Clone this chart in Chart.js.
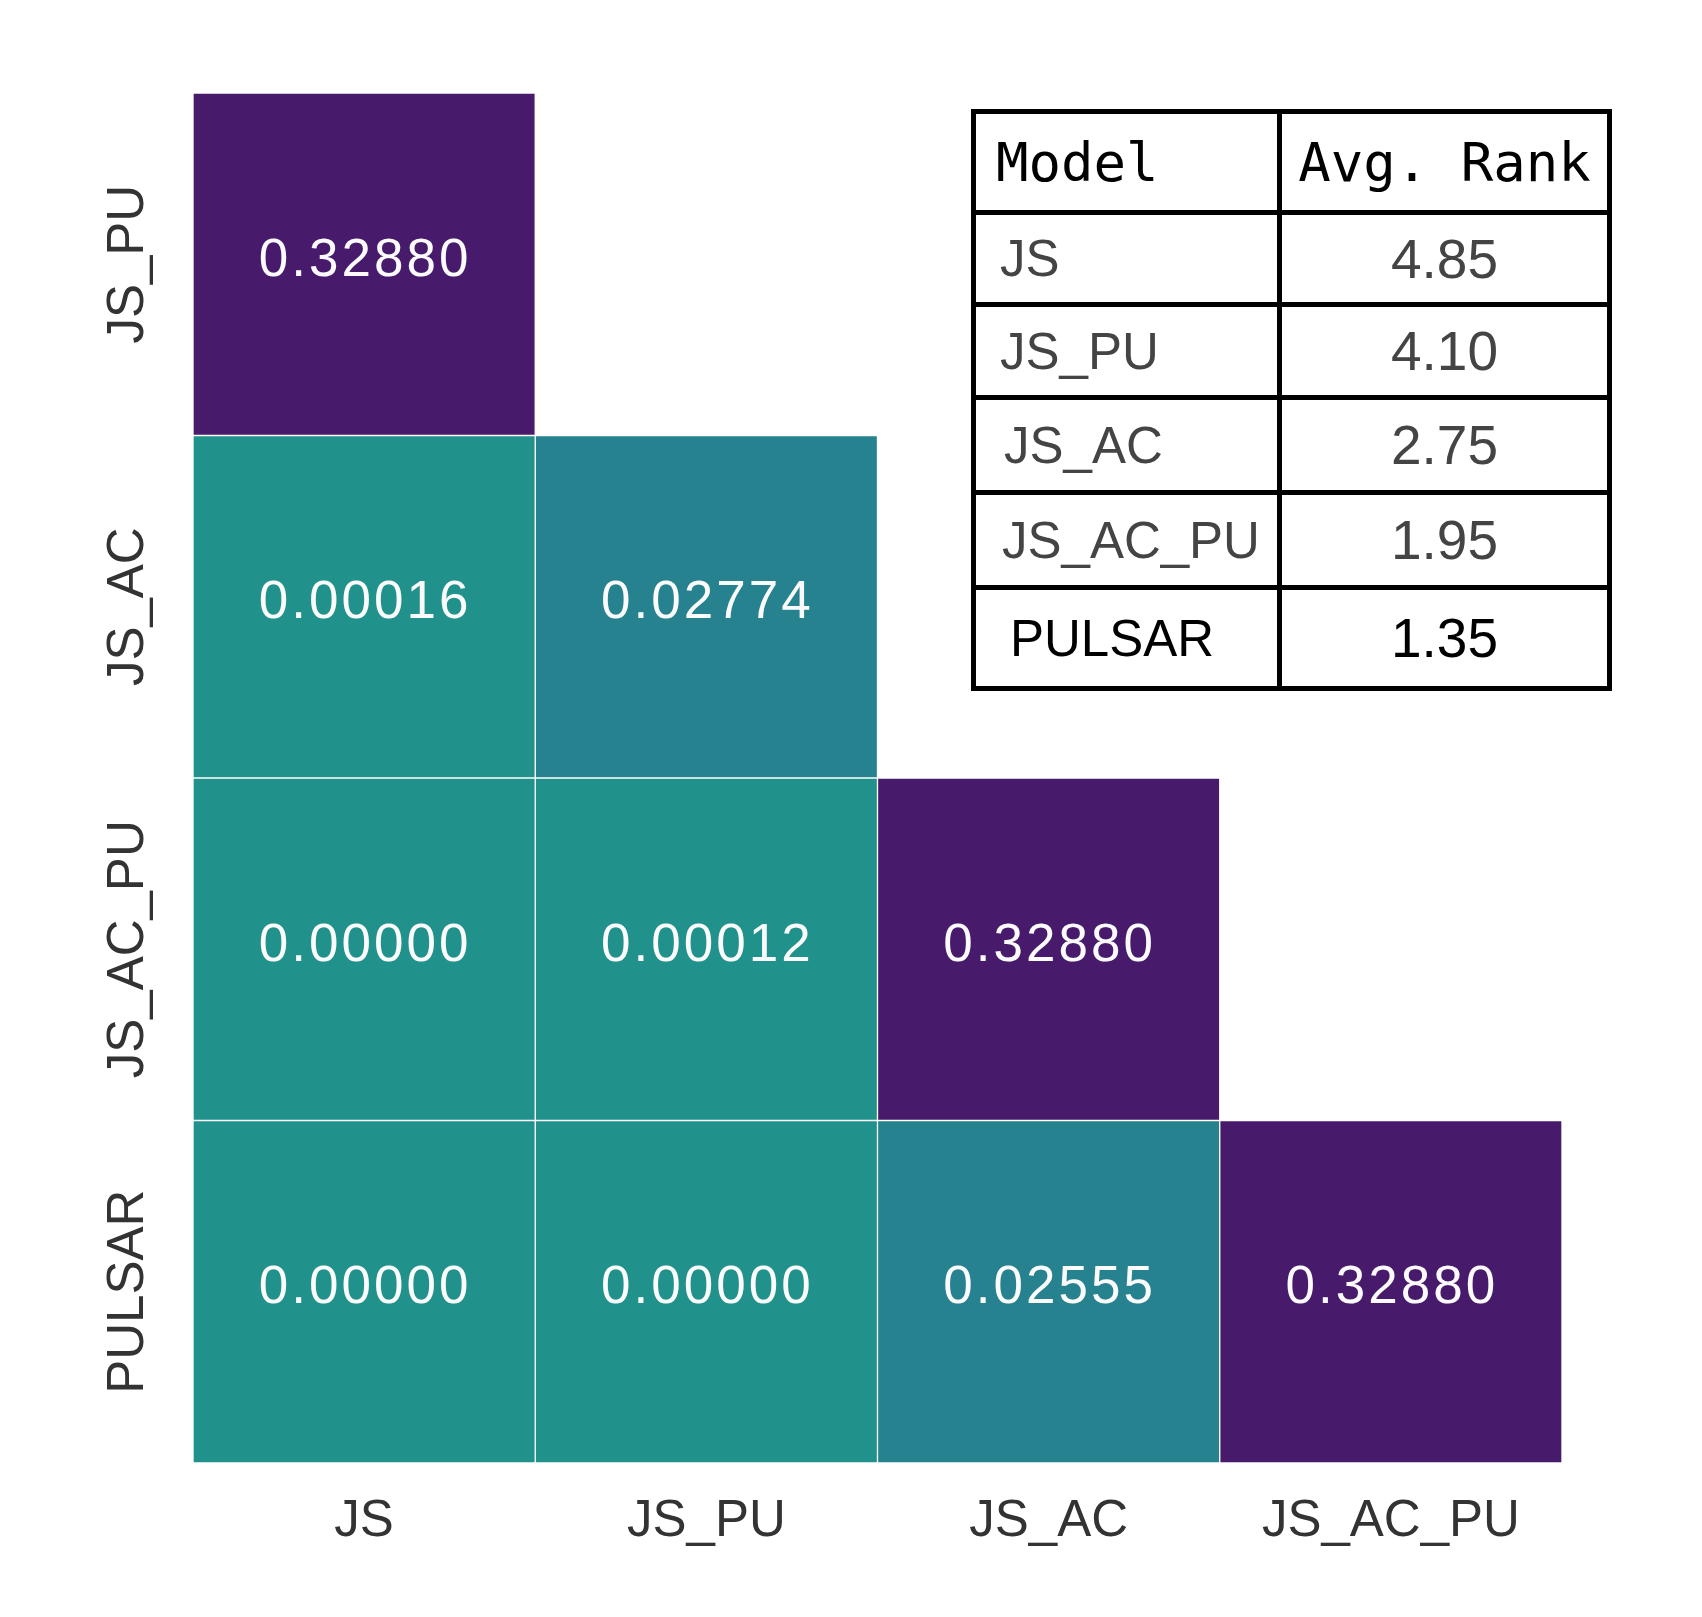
<!DOCTYPE html>
<html>
<head>
<meta charset="utf-8">
<script src="https://cdn.jsdelivr.net/npm/chart.js@4.4.1/dist/chart.umd.min.js"></script>
<style>
  html, body { margin: 0; padding: 0; background: #fff; }
  #wrap { position: relative; width: 1702px; height: 1617px; }
  #rank {
    position: absolute; left: 971px; top: 109px; width: 641px;
    border-collapse: collapse; table-layout: fixed;
    border: 5px solid #000;
  }
  #rank td, #rank th { border: 5px solid #000; padding: 0; vertical-align: middle; }
  #rank th {
    font: normal 54px "DejaVu Sans Mono", monospace; color: #000; text-align: left;
  }
  #rank th.model { padding-left: 20px; }
  #rank th.rank { text-align: center; }
  #rank td { font: 51px "Liberation Sans", Arial, sans-serif; color: #444; }
  #rank td.name { padding-left: 24px; }
  #rank td.val { text-align: center; font-size: 55px; }
  #rank tr.last td { color: #000; }
</style>
</head>
<body>
<div id="wrap">
  <canvas id="heat"></canvas>
  <table id="rank">
    <colgroup><col style="width:306px"><col></colgroup>
    <thead><tr style="height:101px"><th class="model">Model</th><th class="rank">Avg. Rank</th></tr></thead>
    <tbody id="rank-body"></tbody>
  </table>
</div>
<script>
const rowLabels = ['JS_PU', 'JS_AC', 'JS_AC_PU', 'PULSAR'];
const colLabels = ['JS', 'JS_PU', 'JS_AC', 'JS_AC_PU'];

// p-values per column, top row to bottom row (null = upper triangle, not drawn)
const pJS = [0.32880, 0.00016, 0.00000, 0.00000];
const pJSPU = [null, 0.02774, 0.00012, 0.00000];
const pJSAC = [null, null, 0.32880, 0.02555];
const pJSACPU = [null, null, null, 0.32880];

const models = ['JS', 'JS_PU', 'JS_AC', 'JS_AC_PU', 'PULSAR'];
const avgRanks = [4.85, 4.10, 2.75, 1.95, 1.35];

// hand-drawn table: row heights and slight indents
const rowHeights = [92, 93, 95, 95, 101];
const nameIndent = [24, 24, 28, 26, 34];
const labelFont = '"Liberation Sans", Arial, sans-serif';

function cellColor(p) {
  if (p > 0.1) return '#481a6c';
  if (p > 0.01) return '#26828e';
  return '#21918c';
}

// rank table
const body = document.getElementById('rank-body');
for (let i = 0; i < models.length; i++) {
  const tr = document.createElement('tr');
  tr.style.height = rowHeights[i] + 'px';
  if (i === models.length - 1) tr.className = 'last';
  tr.innerHTML = `<td class="name" style="padding-left:${nameIndent[i]}px">${models[i]}</td>` +
    `<td class="val">${avgRanks[i].toFixed(2)}</td>`;
  body.appendChild(tr);
}

const columns = [pJS, pJSPU, pJSAC, pJSACPU];
const datasets = columns.map((vals, j) => ({
  label: colLabels[j],
  data: vals.map(v => v === null ? null : [j, j + 1]),
  pvals: vals,
  backgroundColor: vals.map(v => v === null ? 'rgba(0,0,0,0)' : cellColor(v)),
  borderColor: '#ffffff',
  borderWidth: 1,
  borderSkipped: false,
  grouped: false,
  barPercentage: 1,
  categoryPercentage: 1
}));

const cellText = {
  id: 'cellText',
  afterDatasetsDraw(chart) {
    const ctx = chart.ctx;
    ctx.save();
    ctx.fillStyle = '#fbfbfb';
    ctx.font = '53px ' + labelFont;
    ctx.letterSpacing = '3px';
    ctx.textAlign = 'center';
    ctx.textBaseline = 'middle';
    chart.data.datasets.forEach((ds, j) => {
      chart.getDatasetMeta(j).data.forEach((bar, i) => {
        const v = ds.pvals[i];
        if (v === null || v === undefined) return;
        const c = bar.getCenterPoint();
        ctx.fillText(v.toFixed(5), c.x + 1, c.y - 3);
      });
    });
    ctx.restore();
  }
};

const canvas = document.getElementById('heat');
canvas.width = 1702;
canvas.height = 1617;

new Chart(canvas, {
  type: 'bar',
  data: { labels: rowLabels, datasets: datasets },
  plugins: [cellText],
  options: {
    indexAxis: 'y',
    responsive: false,
    devicePixelRatio: 1,
    animation: false,
    layout: { padding: { top: 93, right: 140, left: 0, bottom: 0 } },
    plugins: { legend: { display: false }, tooltip: { enabled: false } },
    scales: {
      x: {
        type: 'linear', min: 0, max: 4,
        grid: { display: false }, border: { display: false },
        afterBuildTicks: s => { s.ticks = colLabels.map((_, j) => ({ value: j + 0.5 })); },
        afterFit: s => { s.height = 154; },
        ticks: {
          callback: v => colLabels[Math.floor(v)],
          autoSkip: false, minRotation: 0, maxRotation: 0,
          padding: 20, color: '#333', font: { size: 51, family: labelFont }
        }
      },
      y: {
        type: 'category',
        grid: { display: false }, border: { display: false },
        afterFit: s => { s.width = 193; },
        ticks: {
          minRotation: 90, maxRotation: 90, crossAlign: 'center',
          padding: -73, color: '#333', font: { size: 51, family: labelFont }
        }
      }
    }
  }
});
</script>
</body>
</html>
